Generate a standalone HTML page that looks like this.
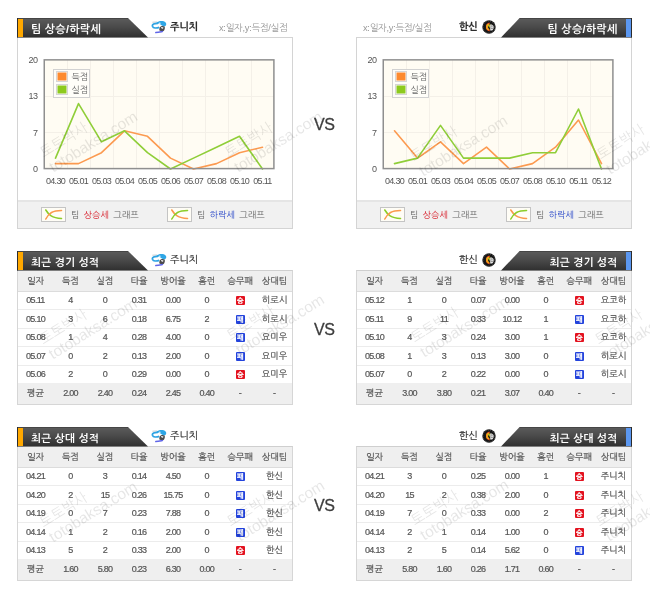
<!DOCTYPE html>
<html><head><meta charset="utf-8">
<style>
*{margin:0;padding:0;box-sizing:border-box}
html,body{width:650px;height:598px;background:#fff;overflow:hidden}
body{position:relative;font-family:"Liberation Sans","NanumGothic","Noto Sans CJK KR",sans-serif;color:#444}
svg text{font-family:"Liberation Sans","NanumGothic","Noto Sans CJK KR",sans-serif}
.abs{position:absolute}
.bar{position:absolute;height:19.5px;background:linear-gradient(#3c3c3c 0,#595959 1.5px,#4a4a4a 9px,#333 18px,#2e2e2e 100%);color:#fff;font-weight:bold;font-size:11.5px;line-height:20px;white-space:nowrap}
.bar.l{clip-path:polygon(0 0,111px 0,131px 100%,0 100%);width:131px}
.bar.r{clip-path:polygon(18.6px 0,100% 0,100% 100%,0 100%);width:131px}
.bar .st{position:absolute;top:1px;bottom:1px;width:4.5px}
.bar .fr{position:absolute;top:0;bottom:0;width:1px;background:#2c2c2c}
.bar.l .st{left:1px;background:#ffa800}
.bar.l .fr{left:0}
.bar.r .st{right:1px;width:5px;background:#5b97f0}
.bar.r .fr{right:0}
.bar.l span{position:absolute;left:14px;top:0.5px}
.bar.r span{position:absolute;right:14.7px;top:0.5px}
.team{position:absolute;font-size:10px;color:#333;-webkit-text-stroke:0.2px #333;white-space:nowrap;line-height:12px}
.team.b{font-weight:bold;color:#2a2a2a}
.note{position:absolute;font-size:9.3px;color:#999;white-space:nowrap;line-height:10px;letter-spacing:-0.3px}
.box{position:absolute;border:1px solid #d4d4d4;background:#fff}
.foot{position:absolute;left:0;right:0;bottom:0;height:28px;background:#f1f1f1;border-top:2px solid #e5e5e5}
.vs{position:absolute;font-size:16px;color:#3d3d3d;line-height:16px;letter-spacing:-0.5px;-webkit-text-stroke:0.3px #3d3d3d}
.lg{position:absolute;font-size:9px;color:#666;white-space:nowrap;line-height:12px;letter-spacing:0.05px;word-spacing:1.5px}
.lg .red{color:#d8202c}.lg .blue{color:#2a48c8}
.tbl{position:absolute;width:276px;border:1px solid #d6d6d6;border-top:1px solid #cfcfcf;background:#fff}
.tr{display:flex;width:274px;-webkit-text-stroke:0.2px currentColor}
.tr>span{flex:0 0 auto;text-align:center;white-space:nowrap}
.tr>span:nth-child(1),.tr>span:nth-child(2){width:35px}
.tr>span:nth-child(3),.tr>span:nth-child(4),.tr>span:nth-child(5){width:34px}
.tr>span:nth-child(6),.tr>span:nth-child(7){width:33.5px}
.tr>span:nth-child(8){width:35px}
.th{height:21px;line-height:20px;background:#efefef;border-bottom:1px solid #dcdcdc;font-size:9px;color:#555}
.td{border-top:1px solid #ececec;font-size:9px;color:#555}
.th + .td{border-top:none}
.tf{height:21px;line-height:21px;background:#efefef;font-size:9px;color:#555}
.n{letter-spacing:-0.7px}
.wl{display:inline-block;width:9px;height:9px;line-height:9px;font-size:7px;color:#fff;vertical-align:middle;border-radius:1px;font-weight:bold;overflow:hidden}
.wl.w{background:#e3121f}.wl.l{background:#2343dc}
</style></head><body>
<div class="box" style="left:17px;top:37px;width:276px;height:192px"><div class="foot"></div></div>
<div class="box" style="left:356px;top:37px;width:276px;height:192px"><div class="foot"></div></div>
<div class="bar l" style="left:17px;top:18px"><div class="fr"></div><div class="st"></div><span style="font-size:11px;letter-spacing:0.2px">팀 상승/하락세</span></div>
<div class="bar r" style="left:501px;top:18px"><div class="fr"></div><div class="st"></div><span style="font-size:11px;letter-spacing:0.2px">팀 상승/하락세</span></div>
<svg class="abs" style="left:151px;top:20px" width="16" height="14" viewBox="0 0 16 14"><path d="M1.4 2.2 L6.2 2.0" stroke="#a0aab4" stroke-width="0.6"/><path d="M7 3.3 C3.4 3.2 0.8 4.4 1.5 6.3 C2.3 8.1 5.4 8.4 8.2 7.4" fill="none" stroke="#2ea3e3" stroke-width="1.7"/><path d="M5.4 2.6 C7.8 0.6 12.6 0.5 14.6 2.4 C15.7 3.6 15.4 5.4 14 6.3 C12.8 6.6 11.6 6.2 10.8 5.6 C9.8 4.3 8.4 3.5 6.8 3.4 Z" fill="#2ea6e6"/><circle cx="8.8" cy="3.3" r="0.8" fill="#eef7fc"/><path d="M8.6 7.6 C9.4 6 12 5.6 13.6 6.6 C14.2 8 13.8 10 12.6 11 C11 11.6 9.4 11.2 8.2 10.2 Z" fill="#4a4a4a"/><path d="M9.8 7.4 C10.8 6.8 12.2 7 12.6 7.9 L11.2 9 Z" fill="#e2e2e2"/><path d="M4.8 12.6 C7.2 12.4 9.4 11.9 11.4 11.5" fill="none" stroke="#6066e8" stroke-width="1.5" stroke-linecap="round"/></svg>
<div class="team b" style="left:170px;top:21px">주니치</div>
<div class="note" style="left:219px;top:23px">x:일자,y:득점/실점</div>
<div class="note" style="left:363px;top:23px">x:일자,y:득점/실점</div>
<div class="team b" style="left:459px;top:21px">한신</div>
<svg class="abs" style="left:482px;top:20px" width="14" height="14" viewBox="0 0 14 14"><circle cx="7" cy="7" r="6.7" fill="#141414"/><circle cx="7" cy="7" r="6" fill="none" stroke="#9a9a9a" stroke-width="0.5" stroke-dasharray="1 1.2"/><circle cx="7" cy="7" r="4.6" fill="#1a1a1a"/><path d="M7.6 2.6 A4.5 4.5 0 0 0 7.6 11.4 L7.6 10 A3.2 3.2 0 0 1 7.6 4 Z" fill="#e8361c"/><path d="M7.4 3.6 A3.4 3.4 0 0 0 7.4 10.4 L7.4 9.2 A2.4 2.4 0 0 1 7.4 4.8 Z" fill="#f4a21c"/><path d="M5.6 5 L8.6 4.6 L7.6 8 Z" fill="#b8c21e"/><path d="M8.2 4.6 C9.6 4.4 11.2 5 11.6 6.4 C11.8 8 11.4 9.6 10.2 10.6 L8.2 10.4 Z" fill="#e4e4e4"/><path d="M9 6 L10.6 6.2 M8.8 8.2 L10.8 8.4" stroke="#555" stroke-width="0.7"/></svg>
<svg class="abs" style="left:0;top:0" width="650" height="230"><rect x="44" y="60" width="230" height="109" fill="#fffcf3"/>
<line x1="67.5" y1="60" x2="67.5" y2="169" stroke="#f4f0e8" stroke-width="1"/>
<line x1="90.5" y1="60" x2="90.5" y2="169" stroke="#f4f0e8" stroke-width="1"/>
<line x1="113.5" y1="60" x2="113.5" y2="169" stroke="#f4f0e8" stroke-width="1"/>
<line x1="136.5" y1="60" x2="136.5" y2="169" stroke="#f4f0e8" stroke-width="1"/>
<line x1="159.5" y1="60" x2="159.5" y2="169" stroke="#f4f0e8" stroke-width="1"/>
<line x1="182.5" y1="60" x2="182.5" y2="169" stroke="#f4f0e8" stroke-width="1"/>
<line x1="205.5" y1="60" x2="205.5" y2="169" stroke="#f4f0e8" stroke-width="1"/>
<line x1="228.5" y1="60" x2="228.5" y2="169" stroke="#f4f0e8" stroke-width="1"/>
<line x1="251.5" y1="60" x2="251.5" y2="169" stroke="#f4f0e8" stroke-width="1"/>
<line x1="44" y1="132.5" x2="274" y2="132.5" stroke="#f4f0e8" stroke-width="1"/>
<line x1="44" y1="96.5" x2="274" y2="96.5" stroke="#f4f0e8" stroke-width="1"/>
<polyline points="55.5,163.6 78.5,163.6 101.5,152.7 124.5,130.8 147.5,136.3 170.5,158.1 193.5,169.0 216.5,163.6 239.5,152.7 262.5,147.2" fill="none" stroke="#fc9a50" stroke-width="1.6" stroke-linejoin="round" stroke-linecap="round"/>
<polyline points="55.5,158.1 78.5,103.6 101.5,141.8 124.5,130.8 147.5,152.7 170.5,169.0 193.5,158.1 216.5,147.2 239.5,136.3 262.5,169.0" fill="none" stroke="#8fce38" stroke-width="1.6" stroke-linejoin="round" stroke-linecap="round"/>
<rect x="44.25" y="59.85" width="229.65" height="108.75" fill="none" stroke="#8f8f8f" stroke-width="1.5"/>
<rect x="53.5" y="69.5" width="36" height="28" fill="#fffef9" stroke="#d2d2d2" stroke-width="1"/>
<rect x="56.5" y="71.5" width="11" height="10" fill="#fafafa" stroke="#d6d6d6" stroke-width="1"/>
<rect x="57.5" y="72.5" width="9" height="8" fill="#fd8a2e"/>
<rect x="56.5" y="84.5" width="11" height="10" fill="#fafafa" stroke="#d6d6d6" stroke-width="1"/>
<rect x="57.5" y="85.5" width="9" height="8" fill="#8dca1e"/>
<text x="71.5" y="80.0" font-size="9" fill="#666">득점</text>
<text x="71.5" y="93.0" font-size="9" fill="#666">실점</text>
<text x="37.6" y="172.0" font-size="9" fill="#555" text-anchor="end" letter-spacing="-0.4">0</text>
<text x="37.6" y="135.7" font-size="9" fill="#555" text-anchor="end" letter-spacing="-0.4">7</text>
<text x="37.6" y="99.3" font-size="9" fill="#555" text-anchor="end" letter-spacing="-0.4">13</text>
<text x="37.6" y="63.0" font-size="9" fill="#555" text-anchor="end" letter-spacing="-0.4">20</text>
<text x="55.5" y="184" font-size="9" fill="#555" text-anchor="middle" letter-spacing="-0.7">04.30</text>
<text x="78.5" y="184" font-size="9" fill="#555" text-anchor="middle" letter-spacing="-0.7">05.01</text>
<text x="101.5" y="184" font-size="9" fill="#555" text-anchor="middle" letter-spacing="-0.7">05.03</text>
<text x="124.5" y="184" font-size="9" fill="#555" text-anchor="middle" letter-spacing="-0.7">05.04</text>
<text x="147.5" y="184" font-size="9" fill="#555" text-anchor="middle" letter-spacing="-0.7">05.05</text>
<text x="170.5" y="184" font-size="9" fill="#555" text-anchor="middle" letter-spacing="-0.7">05.06</text>
<text x="193.5" y="184" font-size="9" fill="#555" text-anchor="middle" letter-spacing="-0.7">05.07</text>
<text x="216.5" y="184" font-size="9" fill="#555" text-anchor="middle" letter-spacing="-0.7">05.08</text>
<text x="239.5" y="184" font-size="9" fill="#555" text-anchor="middle" letter-spacing="-0.7">05.10</text>
<text x="262.5" y="184" font-size="9" fill="#555" text-anchor="middle" letter-spacing="-0.7">05.11</text><rect x="383" y="60" width="230" height="109" fill="#fffcf3"/>
<line x1="406.5" y1="60" x2="406.5" y2="169" stroke="#f4f0e8" stroke-width="1"/>
<line x1="429.5" y1="60" x2="429.5" y2="169" stroke="#f4f0e8" stroke-width="1"/>
<line x1="452.5" y1="60" x2="452.5" y2="169" stroke="#f4f0e8" stroke-width="1"/>
<line x1="475.5" y1="60" x2="475.5" y2="169" stroke="#f4f0e8" stroke-width="1"/>
<line x1="498.5" y1="60" x2="498.5" y2="169" stroke="#f4f0e8" stroke-width="1"/>
<line x1="521.5" y1="60" x2="521.5" y2="169" stroke="#f4f0e8" stroke-width="1"/>
<line x1="544.5" y1="60" x2="544.5" y2="169" stroke="#f4f0e8" stroke-width="1"/>
<line x1="567.5" y1="60" x2="567.5" y2="169" stroke="#f4f0e8" stroke-width="1"/>
<line x1="590.5" y1="60" x2="590.5" y2="169" stroke="#f4f0e8" stroke-width="1"/>
<line x1="383" y1="132.5" x2="613" y2="132.5" stroke="#f4f0e8" stroke-width="1"/>
<line x1="383" y1="96.5" x2="613" y2="96.5" stroke="#f4f0e8" stroke-width="1"/>
<polyline points="394.5,130.8 417.5,158.1 440.5,141.8 463.5,163.6 486.5,147.2 509.5,169.0 532.5,163.6 555.5,147.2 578.5,120.0 601.5,163.6" fill="none" stroke="#fc9a50" stroke-width="1.6" stroke-linejoin="round" stroke-linecap="round"/>
<polyline points="394.5,163.6 417.5,158.1 440.5,125.4 463.5,158.1 486.5,158.1 509.5,158.1 532.5,152.7 555.5,152.7 578.5,109.0 601.5,169.0" fill="none" stroke="#8fce38" stroke-width="1.6" stroke-linejoin="round" stroke-linecap="round"/>
<rect x="383.25" y="59.85" width="229.65" height="108.75" fill="none" stroke="#8f8f8f" stroke-width="1.5"/>
<rect x="392.5" y="69.5" width="36" height="28" fill="#fffef9" stroke="#d2d2d2" stroke-width="1"/>
<rect x="395.5" y="71.5" width="11" height="10" fill="#fafafa" stroke="#d6d6d6" stroke-width="1"/>
<rect x="396.5" y="72.5" width="9" height="8" fill="#fd8a2e"/>
<rect x="395.5" y="84.5" width="11" height="10" fill="#fafafa" stroke="#d6d6d6" stroke-width="1"/>
<rect x="396.5" y="85.5" width="9" height="8" fill="#8dca1e"/>
<text x="410.5" y="80.0" font-size="9" fill="#666">득점</text>
<text x="410.5" y="93.0" font-size="9" fill="#666">실점</text>
<text x="376.6" y="172.0" font-size="9" fill="#555" text-anchor="end" letter-spacing="-0.4">0</text>
<text x="376.6" y="135.7" font-size="9" fill="#555" text-anchor="end" letter-spacing="-0.4">7</text>
<text x="376.6" y="99.3" font-size="9" fill="#555" text-anchor="end" letter-spacing="-0.4">13</text>
<text x="376.6" y="63.0" font-size="9" fill="#555" text-anchor="end" letter-spacing="-0.4">20</text>
<text x="394.5" y="184" font-size="9" fill="#555" text-anchor="middle" letter-spacing="-0.7">04.30</text>
<text x="417.5" y="184" font-size="9" fill="#555" text-anchor="middle" letter-spacing="-0.7">05.01</text>
<text x="440.5" y="184" font-size="9" fill="#555" text-anchor="middle" letter-spacing="-0.7">05.03</text>
<text x="463.5" y="184" font-size="9" fill="#555" text-anchor="middle" letter-spacing="-0.7">05.04</text>
<text x="486.5" y="184" font-size="9" fill="#555" text-anchor="middle" letter-spacing="-0.7">05.05</text>
<text x="509.5" y="184" font-size="9" fill="#555" text-anchor="middle" letter-spacing="-0.7">05.07</text>
<text x="532.5" y="184" font-size="9" fill="#555" text-anchor="middle" letter-spacing="-0.7">05.08</text>
<text x="555.5" y="184" font-size="9" fill="#555" text-anchor="middle" letter-spacing="-0.7">05.10</text>
<text x="578.5" y="184" font-size="9" fill="#555" text-anchor="middle" letter-spacing="-0.7">05.11</text>
<text x="601.5" y="184" font-size="9" fill="#555" text-anchor="middle" letter-spacing="-0.7">05.12</text></svg>
<svg class="abs" style="left:41px;top:207px" width="25" height="15" viewBox="0 0 25 15"><rect x="0.5" y="0.5" width="24" height="14" fill="#fffdf6" stroke="#c4c4c4"/><path d="M4.8 3 C7.8 8 10.8 11 20.5 11.5" fill="none" stroke="#8ccd2a" stroke-width="1.6" stroke-linecap="round"/><path d="M4.8 12 C7.8 6 11.8 3.5 20.5 3.5" fill="none" stroke="#fb9a4c" stroke-width="1.6" stroke-linecap="round"/></svg>
<div class="lg" style="left:71px;top:209px">팀 <span class="red">상승세</span> 그래프</div>
<svg class="abs" style="left:167px;top:207px" width="25" height="15" viewBox="0 0 25 15"><rect x="0.5" y="0.5" width="24" height="14" fill="#fffdf6" stroke="#c4c4c4"/><path d="M4.8 3 C7.8 8 10.8 11 20.5 11.5" fill="none" stroke="#fb9a4c" stroke-width="1.6" stroke-linecap="round"/><path d="M4.8 12 C7.8 6 11.8 3.5 20.5 3.5" fill="none" stroke="#8ccd2a" stroke-width="1.6" stroke-linecap="round"/></svg>
<div class="lg" style="left:197px;top:209px">팀 <span class="blue">하락세</span> 그래프</div>
<svg class="abs" style="left:380px;top:207px" width="25" height="15" viewBox="0 0 25 15"><rect x="0.5" y="0.5" width="24" height="14" fill="#fffdf6" stroke="#c4c4c4"/><path d="M4.8 3 C7.8 8 10.8 11 20.5 11.5" fill="none" stroke="#8ccd2a" stroke-width="1.6" stroke-linecap="round"/><path d="M4.8 12 C7.8 6 11.8 3.5 20.5 3.5" fill="none" stroke="#fb9a4c" stroke-width="1.6" stroke-linecap="round"/></svg>
<div class="lg" style="left:410px;top:209px">팀 <span class="red">상승세</span> 그래프</div>
<svg class="abs" style="left:506px;top:207px" width="25" height="15" viewBox="0 0 25 15"><rect x="0.5" y="0.5" width="24" height="14" fill="#fffdf6" stroke="#c4c4c4"/><path d="M4.8 3 C7.8 8 10.8 11 20.5 11.5" fill="none" stroke="#fb9a4c" stroke-width="1.6" stroke-linecap="round"/><path d="M4.8 12 C7.8 6 11.8 3.5 20.5 3.5" fill="none" stroke="#8ccd2a" stroke-width="1.6" stroke-linecap="round"/></svg>
<div class="lg" style="left:536px;top:209px">팀 <span class="blue">하락세</span> 그래프</div>
<div class="vs" style="left:314px;top:117px">VS</div>
<div class="tbl" style="left:17px;top:270px">
<div class="tr th"><span>일자</span><span>득점</span><span>실점</span><span>타율</span><span>방어율</span><span>홈런</span><span>승무패</span><span>상대팀</span></div>
<div class="tr td" style="height:17px;line-height:17px"><span class="n">05.11</span><span class="n">4</span><span class="n">0</span><span class="n">0.31</span><span class="n">0.00</span><span class="n">0</span><span><span class="wl w">승</span></span><span class="k">히로시</span></div>
<div class="tr td" style="height:19px;line-height:18px"><span class="n">05.10</span><span class="n">3</span><span class="n">6</span><span class="n">0.18</span><span class="n">6.75</span><span class="n">2</span><span><span class="wl l">패</span></span><span class="k">히로시</span></div>
<div class="tr td" style="height:18px;line-height:17px"><span class="n">05.08</span><span class="n">1</span><span class="n">4</span><span class="n">0.28</span><span class="n">4.00</span><span class="n">0</span><span><span class="wl l">패</span></span><span class="k">요미우</span></div>
<div class="tr td" style="height:19px;line-height:18px"><span class="n">05.07</span><span class="n">0</span><span class="n">2</span><span class="n">0.13</span><span class="n">2.00</span><span class="n">0</span><span><span class="wl l">패</span></span><span class="k">요미우</span></div>
<div class="tr td" style="height:18px;line-height:17px"><span class="n">05.06</span><span class="n">2</span><span class="n">0</span><span class="n">0.29</span><span class="n">0.00</span><span class="n">0</span><span><span class="wl w">승</span></span><span class="k">요미우</span></div>
<div class="tr tf"><span class="k">평균</span><span class="n">2.00</span><span class="n">2.40</span><span class="n">0.24</span><span class="n">2.45</span><span class="n">0.40</span><span class="d">-</span><span class="d">-</span></div>
</div>
<div class="tbl" style="left:356px;top:270px">
<div class="tr th"><span>일자</span><span>득점</span><span>실점</span><span>타율</span><span>방어율</span><span>홈런</span><span>승무패</span><span>상대팀</span></div>
<div class="tr td" style="height:17px;line-height:17px"><span class="n">05.12</span><span class="n">1</span><span class="n">0</span><span class="n">0.07</span><span class="n">0.00</span><span class="n">0</span><span><span class="wl w">승</span></span><span class="k">요코하</span></div>
<div class="tr td" style="height:19px;line-height:18px"><span class="n">05.11</span><span class="n">9</span><span class="n">11</span><span class="n">0.33</span><span class="n">10.12</span><span class="n">1</span><span><span class="wl l">패</span></span><span class="k">요코하</span></div>
<div class="tr td" style="height:18px;line-height:17px"><span class="n">05.10</span><span class="n">4</span><span class="n">3</span><span class="n">0.24</span><span class="n">3.00</span><span class="n">1</span><span><span class="wl w">승</span></span><span class="k">요코하</span></div>
<div class="tr td" style="height:19px;line-height:18px"><span class="n">05.08</span><span class="n">1</span><span class="n">3</span><span class="n">0.13</span><span class="n">3.00</span><span class="n">0</span><span><span class="wl l">패</span></span><span class="k">히로시</span></div>
<div class="tr td" style="height:18px;line-height:17px"><span class="n">05.07</span><span class="n">0</span><span class="n">2</span><span class="n">0.22</span><span class="n">0.00</span><span class="n">0</span><span><span class="wl l">패</span></span><span class="k">히로시</span></div>
<div class="tr tf"><span class="k">평균</span><span class="n">3.00</span><span class="n">3.80</span><span class="n">0.21</span><span class="n">3.07</span><span class="n">0.40</span><span class="d">-</span><span class="d">-</span></div>
</div>
<div class="bar l" style="left:17px;top:251px"><div class="fr"></div><div class="st"></div><span style="font-size:10.5px;letter-spacing:0.35px">최근 경기 성적</span></div>
<div class="bar r" style="left:501px;top:251px"><div class="fr"></div><div class="st"></div><span style="font-size:10.5px;letter-spacing:0.35px">최근 경기 성적</span></div>
<svg class="abs" style="left:151px;top:253px" width="16" height="14" viewBox="0 0 16 14"><path d="M1.4 2.2 L6.2 2.0" stroke="#a0aab4" stroke-width="0.6"/><path d="M7 3.3 C3.4 3.2 0.8 4.4 1.5 6.3 C2.3 8.1 5.4 8.4 8.2 7.4" fill="none" stroke="#2ea3e3" stroke-width="1.7"/><path d="M5.4 2.6 C7.8 0.6 12.6 0.5 14.6 2.4 C15.7 3.6 15.4 5.4 14 6.3 C12.8 6.6 11.6 6.2 10.8 5.6 C9.8 4.3 8.4 3.5 6.8 3.4 Z" fill="#2ea6e6"/><circle cx="8.8" cy="3.3" r="0.8" fill="#eef7fc"/><path d="M8.6 7.6 C9.4 6 12 5.6 13.6 6.6 C14.2 8 13.8 10 12.6 11 C11 11.6 9.4 11.2 8.2 10.2 Z" fill="#4a4a4a"/><path d="M9.8 7.4 C10.8 6.8 12.2 7 12.6 7.9 L11.2 9 Z" fill="#e2e2e2"/><path d="M4.8 12.6 C7.2 12.4 9.4 11.9 11.4 11.5" fill="none" stroke="#6066e8" stroke-width="1.5" stroke-linecap="round"/></svg>
<div class="team" style="left:170px;top:254px">주니치</div>
<div class="team" style="left:459px;top:254px">한신</div>
<svg class="abs" style="left:482px;top:253px" width="14" height="14" viewBox="0 0 14 14"><circle cx="7" cy="7" r="6.7" fill="#141414"/><circle cx="7" cy="7" r="6" fill="none" stroke="#9a9a9a" stroke-width="0.5" stroke-dasharray="1 1.2"/><circle cx="7" cy="7" r="4.6" fill="#1a1a1a"/><path d="M7.6 2.6 A4.5 4.5 0 0 0 7.6 11.4 L7.6 10 A3.2 3.2 0 0 1 7.6 4 Z" fill="#e8361c"/><path d="M7.4 3.6 A3.4 3.4 0 0 0 7.4 10.4 L7.4 9.2 A2.4 2.4 0 0 1 7.4 4.8 Z" fill="#f4a21c"/><path d="M5.6 5 L8.6 4.6 L7.6 8 Z" fill="#b8c21e"/><path d="M8.2 4.6 C9.6 4.4 11.2 5 11.6 6.4 C11.8 8 11.4 9.6 10.2 10.6 L8.2 10.4 Z" fill="#e4e4e4"/><path d="M9 6 L10.6 6.2 M8.8 8.2 L10.8 8.4" stroke="#555" stroke-width="0.7"/></svg>
<div class="vs" style="left:314px;top:322px">VS</div>
<div class="tbl" style="left:17px;top:446px">
<div class="tr th"><span>일자</span><span>득점</span><span>실점</span><span>타율</span><span>방어율</span><span>홈런</span><span>승무패</span><span>상대팀</span></div>
<div class="tr td" style="height:17px;line-height:17px"><span class="n">04.21</span><span class="n">0</span><span class="n">3</span><span class="n">0.14</span><span class="n">4.50</span><span class="n">0</span><span><span class="wl l">패</span></span><span class="k">한신</span></div>
<div class="tr td" style="height:19px;line-height:18px"><span class="n">04.20</span><span class="n">2</span><span class="n">15</span><span class="n">0.26</span><span class="n">15.75</span><span class="n">0</span><span><span class="wl l">패</span></span><span class="k">한신</span></div>
<div class="tr td" style="height:18px;line-height:17px"><span class="n">04.19</span><span class="n">0</span><span class="n">7</span><span class="n">0.23</span><span class="n">7.88</span><span class="n">0</span><span><span class="wl l">패</span></span><span class="k">한신</span></div>
<div class="tr td" style="height:19px;line-height:18px"><span class="n">04.14</span><span class="n">1</span><span class="n">2</span><span class="n">0.16</span><span class="n">2.00</span><span class="n">0</span><span><span class="wl l">패</span></span><span class="k">한신</span></div>
<div class="tr td" style="height:18px;line-height:17px"><span class="n">04.13</span><span class="n">5</span><span class="n">2</span><span class="n">0.33</span><span class="n">2.00</span><span class="n">0</span><span><span class="wl w">승</span></span><span class="k">한신</span></div>
<div class="tr tf"><span class="k">평균</span><span class="n">1.60</span><span class="n">5.80</span><span class="n">0.23</span><span class="n">6.30</span><span class="n">0.00</span><span class="d">-</span><span class="d">-</span></div>
</div>
<div class="tbl" style="left:356px;top:446px">
<div class="tr th"><span>일자</span><span>득점</span><span>실점</span><span>타율</span><span>방어율</span><span>홈런</span><span>승무패</span><span>상대팀</span></div>
<div class="tr td" style="height:17px;line-height:17px"><span class="n">04.21</span><span class="n">3</span><span class="n">0</span><span class="n">0.25</span><span class="n">0.00</span><span class="n">1</span><span><span class="wl w">승</span></span><span class="k">주니치</span></div>
<div class="tr td" style="height:19px;line-height:18px"><span class="n">04.20</span><span class="n">15</span><span class="n">2</span><span class="n">0.38</span><span class="n">2.00</span><span class="n">0</span><span><span class="wl w">승</span></span><span class="k">주니치</span></div>
<div class="tr td" style="height:18px;line-height:17px"><span class="n">04.19</span><span class="n">7</span><span class="n">0</span><span class="n">0.33</span><span class="n">0.00</span><span class="n">2</span><span><span class="wl w">승</span></span><span class="k">주니치</span></div>
<div class="tr td" style="height:19px;line-height:18px"><span class="n">04.14</span><span class="n">2</span><span class="n">1</span><span class="n">0.14</span><span class="n">1.00</span><span class="n">0</span><span><span class="wl w">승</span></span><span class="k">주니치</span></div>
<div class="tr td" style="height:18px;line-height:17px"><span class="n">04.13</span><span class="n">2</span><span class="n">5</span><span class="n">0.14</span><span class="n">5.62</span><span class="n">0</span><span><span class="wl l">패</span></span><span class="k">주니치</span></div>
<div class="tr tf"><span class="k">평균</span><span class="n">5.80</span><span class="n">1.60</span><span class="n">0.26</span><span class="n">1.71</span><span class="n">0.60</span><span class="d">-</span><span class="d">-</span></div>
</div>
<div class="bar l" style="left:17px;top:427px"><div class="fr"></div><div class="st"></div><span style="font-size:10.5px;letter-spacing:0.35px">최근 상대 성적</span></div>
<div class="bar r" style="left:501px;top:427px"><div class="fr"></div><div class="st"></div><span style="font-size:10.5px;letter-spacing:0.35px">최근 상대 성적</span></div>
<svg class="abs" style="left:151px;top:429px" width="16" height="14" viewBox="0 0 16 14"><path d="M1.4 2.2 L6.2 2.0" stroke="#a0aab4" stroke-width="0.6"/><path d="M7 3.3 C3.4 3.2 0.8 4.4 1.5 6.3 C2.3 8.1 5.4 8.4 8.2 7.4" fill="none" stroke="#2ea3e3" stroke-width="1.7"/><path d="M5.4 2.6 C7.8 0.6 12.6 0.5 14.6 2.4 C15.7 3.6 15.4 5.4 14 6.3 C12.8 6.6 11.6 6.2 10.8 5.6 C9.8 4.3 8.4 3.5 6.8 3.4 Z" fill="#2ea6e6"/><circle cx="8.8" cy="3.3" r="0.8" fill="#eef7fc"/><path d="M8.6 7.6 C9.4 6 12 5.6 13.6 6.6 C14.2 8 13.8 10 12.6 11 C11 11.6 9.4 11.2 8.2 10.2 Z" fill="#4a4a4a"/><path d="M9.8 7.4 C10.8 6.8 12.2 7 12.6 7.9 L11.2 9 Z" fill="#e2e2e2"/><path d="M4.8 12.6 C7.2 12.4 9.4 11.9 11.4 11.5" fill="none" stroke="#6066e8" stroke-width="1.5" stroke-linecap="round"/></svg>
<div class="team" style="left:170px;top:430px">주니치</div>
<div class="team" style="left:459px;top:430px">한신</div>
<svg class="abs" style="left:482px;top:429px" width="14" height="14" viewBox="0 0 14 14"><circle cx="7" cy="7" r="6.7" fill="#141414"/><circle cx="7" cy="7" r="6" fill="none" stroke="#9a9a9a" stroke-width="0.5" stroke-dasharray="1 1.2"/><circle cx="7" cy="7" r="4.6" fill="#1a1a1a"/><path d="M7.6 2.6 A4.5 4.5 0 0 0 7.6 11.4 L7.6 10 A3.2 3.2 0 0 1 7.6 4 Z" fill="#e8361c"/><path d="M7.4 3.6 A3.4 3.4 0 0 0 7.4 10.4 L7.4 9.2 A2.4 2.4 0 0 1 7.4 4.8 Z" fill="#f4a21c"/><path d="M5.6 5 L8.6 4.6 L7.6 8 Z" fill="#b8c21e"/><path d="M8.2 4.6 C9.6 4.4 11.2 5 11.6 6.4 C11.8 8 11.4 9.6 10.2 10.6 L8.2 10.4 Z" fill="#e4e4e4"/><path d="M9 6 L10.6 6.2 M8.8 8.2 L10.8 8.4" stroke="#555" stroke-width="0.7"/></svg>
<div class="vs" style="left:314px;top:498px">VS</div>
<svg class="abs" style="left:0;top:0;pointer-events:none" width="650" height="598"><g fill="#000" fill-opacity="0.10"><g transform="translate(44,158) rotate(-32)"><text x="0" y="0" font-size="14">토토박사</text><text x="0" y="17.5" font-size="15.5">totobaksa.com</text></g><g transform="translate(229,158) rotate(-32)"><text x="0" y="0" font-size="14">토토박사</text><text x="0" y="17.5" font-size="15.5">totobaksa.com</text></g><g transform="translate(414,162) rotate(-32)"><text x="0" y="0" font-size="14">토토박사</text><text x="0" y="17.5" font-size="15.5">totobaksa.com</text></g><g transform="translate(601,160) rotate(-32)"><text x="0" y="0" font-size="14">토토박사</text><text x="0" y="17.5" font-size="15.5">totobaksa.com</text></g><g transform="translate(43.5,345) rotate(-32)"><text x="0" y="0" font-size="14">토토박사</text><text x="0" y="17.5" font-size="15.5">totobaksa.com</text></g><g transform="translate(230.7,341) rotate(-32)"><text x="0" y="0" font-size="14">토토박사</text><text x="0" y="17.5" font-size="15.5">totobaksa.com</text></g><g transform="translate(415,343) rotate(-32)"><text x="0" y="0" font-size="14">토토박사</text><text x="0" y="17.5" font-size="15.5">totobaksa.com</text></g><g transform="translate(599,345) rotate(-32)"><text x="0" y="0" font-size="14">토토박사</text><text x="0" y="17.5" font-size="15.5">totobaksa.com</text></g><g transform="translate(43.8,528) rotate(-32)"><text x="0" y="0" font-size="14">토토박사</text><text x="0" y="17.5" font-size="15.5">totobaksa.com</text></g><g transform="translate(231,527) rotate(-32)"><text x="0" y="0" font-size="14">토토박사</text><text x="0" y="17.5" font-size="15.5">totobaksa.com</text></g><g transform="translate(415,526) rotate(-32)"><text x="0" y="0" font-size="14">토토박사</text><text x="0" y="17.5" font-size="15.5">totobaksa.com</text></g><g transform="translate(600,527) rotate(-32)"><text x="0" y="0" font-size="14">토토박사</text><text x="0" y="17.5" font-size="15.5">totobaksa.com</text></g></g></svg>
</body></html>
